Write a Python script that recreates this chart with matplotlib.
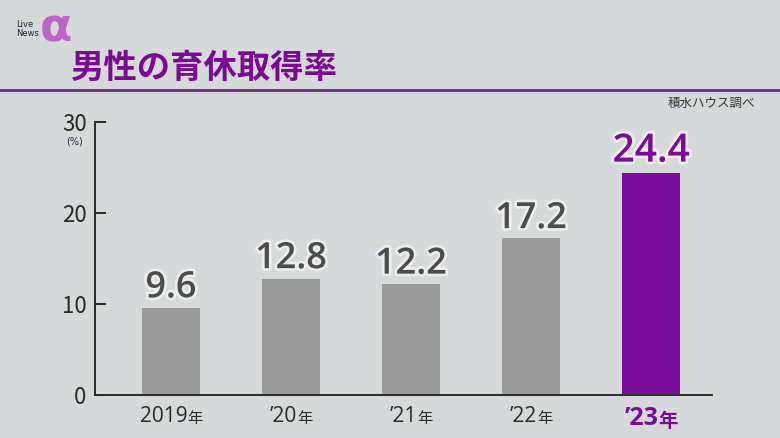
import matplotlib
matplotlib.use("Agg")
import matplotlib.pyplot as plt
import matplotlib.patheffects as pe

plt.rcParams['font.family'] = ['Noto Sans CJK JP', 'DejaVu Sans']

# data
years = ['2019', '’20', '’21', '’22', '’23']
rates = [9.6, 12.8, 12.2, 17.2, 24.4]
title = '男性の育休取得率'
source = '積水ハウス調べ'

bg = '#d5d9da'
gray_bar = '#9a9a9a'
purple = '#7a0a9a'
dark = '#2a2a2a'
num_font = ['Open Sans', 'Noto Sans CJK JP']

fig = plt.figure(figsize=(7.8, 4.38), dpi=100, facecolor=bg)
ax = fig.add_axes([95 / 780, 43 / 438, 617 / 780, 273 / 438])
ax.set_facecolor(bg)

colors = [gray_bar] * (len(rates) - 1) + [purple]
x = list(range(len(rates)))
ax.bar(x, rates, width=0.48, color=colors, zorder=2)

ax.set_xlim(-0.633, 4.508)
ax.set_ylim(0, 30)
ax.set_yticks([0, 10, 20, 30])
ax.set_xticks([])
ax.tick_params(axis='y', direction='in', length=8, width=1.4, color=dark,
               labelsize=16, labelcolor=dark, pad=6)
for s in ['top', 'right']:
    ax.spines[s].set_visible(False)
for s in ['left', 'bottom']:
    ax.spines[s].set_color(dark)
    ax.spines[s].set_linewidth(1.4)

ax.text(-0.80, 27.9, '(%)', fontsize=7, color=dark, ha='center', va='center',
        family=['DejaVu Sans'])

# value labels
glow = [pe.withStroke(linewidth=4, foreground='white', alpha=0.55)]
for i, v in enumerate(rates):
    last = i == len(rates) - 1
    ax.annotate(f'{v:.1f}', (i, v), xytext=(0, 1), textcoords='offset points',
                ha='center', va='bottom', fontsize=28 if last else 26,
                fontweight='semibold', color=purple if last else '#4c4c4c',
                path_effects=glow, family=num_font)

# category labels: number + smaller 年
fig.canvas.draw()
rend = fig.canvas.get_renderer()
for i, yr in enumerate(years):
    last = i == len(years) - 1
    col = purple if last else dark
    w = 'bold' if last else 'normal'
    y1 = -8
    y2 = -12 if last else -11
    t1 = ax.annotate(yr, (i, 0), xytext=(0, y1), textcoords='offset points',
                     ha='right', va='top', fontsize=18 if last else 15,
                     color=col, fontweight=w, family=num_font)
    t2 = ax.annotate('年', (i, 0), xytext=(0, y2), textcoords='offset points',
                     ha='left', va='top', fontsize=14 if last else 11,
                     color=col, fontweight=w)
    w1 = t1.get_window_extent(rend).width
    w2 = t2.get_window_extent(rend).width
    shift = (w1 - w2) / 2 * 72 / fig.dpi
    t1.set_position((shift, y1))
    t2.set_position((shift, y2))

# header
fig.text(70 / 780, 1 - 68 / 438, title, fontsize=24, fontweight='bold',
         color='#7b0a92', ha='left', va='center')
fig.add_artist(plt.Line2D([0, 1], [1 - 90 / 438] * 2, color='#6b2a7d', lw=2))
fig.text(755 / 780, 1 - 103 / 438, source, fontsize=9, color='#333333',
         ha='right', va='center')

# logo
fig.text(40 / 780, 1 - 29 / 438, 'α', fontsize=34, fontweight='bold',
         color='#b54ac0', ha='left', va='center', alpha=0.8,
         family=['DejaVu Sans'])
fig.text(16 / 780, 1 - 29 / 438, 'Live\nNews', fontsize=6, color='#222222',
         ha='left', va='center', linespacing=0.9, family=['DejaVu Sans'])

fig.savefig('out.png', dpi=100, facecolor=bg)
